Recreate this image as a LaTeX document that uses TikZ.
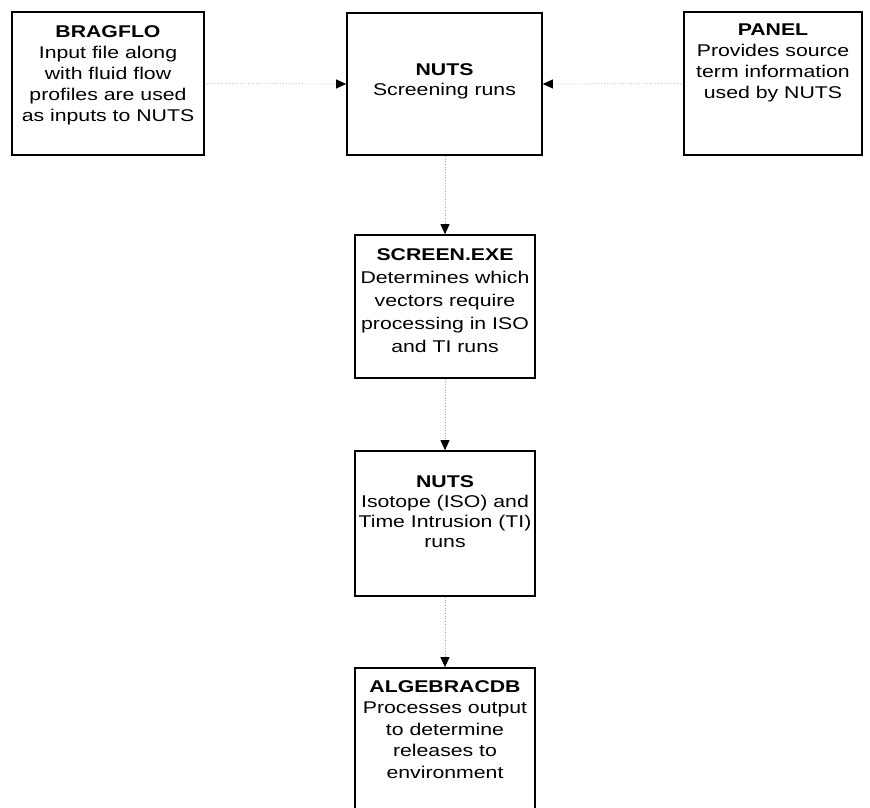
\documentclass[tikz,border=0pt]{standalone}
\usepackage{fontspec}
\setmainfont{Liberation Sans}[FakeStretch=1.25]
\usetikzlibrary{arrows.meta}
\tikzset{
  box/.style={draw=black, line width=1.7pt, rectangle, inner sep=0pt, fill=white},
  txt/.style={align=center, inner sep=0pt, anchor=north, font={\fontsize{17}{21}\selectfont}},
  conn/.style={draw=gray!70, dotted, line width=0.7pt, -{Triangle[length=10pt,width=9pt,color=black]}}
}
\begin{document}
\begin{tikzpicture}[x=1pt,y=-1pt]
\useasboundingbox (0,0) rectangle (870,808);
\fill[white] (0,0) rectangle (870,808);
% boxes
\node[box, minimum width=192pt, minimum height=143pt] (bragflo) at (108,83.5) {};
\node[box, minimum width=195pt, minimum height=142pt] (nuts1) at (444.5,84) {};
\node[box, minimum width=178pt, minimum height=143pt] (panel) at (773,83.5) {};
\node[box, minimum width=180pt, minimum height=143pt] (screen) at (445,306.5) {};
\node[box, minimum width=180pt, minimum height=145pt] (nuts2) at (445,523.5) {};
\node[box, minimum width=180pt, minimum height=142pt] (algebra) at (445,739) {};
% texts
\node[txt] (tbragflo) at (108,25) {\textbf{BRAGFLO}\\Input file along\\with fluid flow\\profiles are used\\as inputs to NUTS};
\node[txt, font={\fontsize{17}{20}\selectfont}] (tnuts1) at (444.5,63) {\textbf{NUTS}\\Screening runs};
\node[txt] (tpanel) at (773,24) {\textbf{PANEL}\\Provides source\\term information\\used by NUTS};
\node[txt, font={\fontsize{17}{23}\selectfont}] (tscreen) at (445,248) {\textbf{SCREEN.EXE}\\Determines which\\vectors require\\processing in ISO\\and TI runs};
\node[txt, font={\fontsize{17}{20}\selectfont}] (tnuts2) at (445,475) {\textbf{NUTS}\\Isotope (ISO) and\\Time Intrusion (TI)\\runs};
\node[txt, font={\fontsize{17}{21.5}\selectfont}] (talgebra) at (445,680) {\textbf{ALGEBRACDB}\\Processes output\\to determine\\releases to\\environment};
% connectors
\draw[conn] (bragflo.east) -- (nuts1.west);
\draw[conn] (panel.west) -- (nuts1.east);
\draw[conn] (nuts1.south -| screen.north) -- (screen.north);
\draw[conn] (screen.south) -- (nuts2.north);
\draw[conn] (nuts2.south) -- (algebra.north);
\end{tikzpicture}
\end{document}
